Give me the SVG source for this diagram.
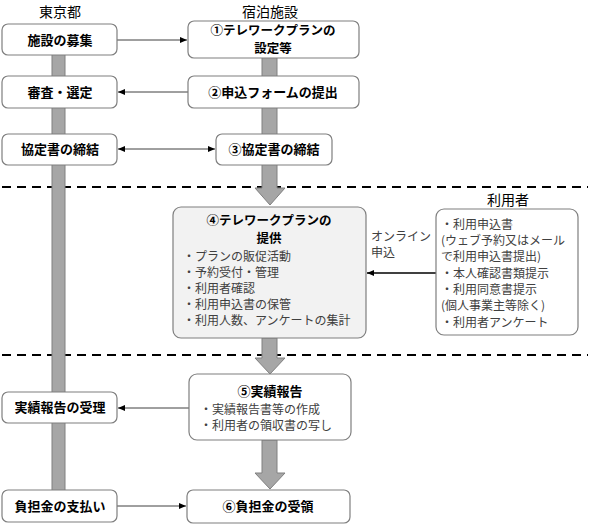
<svg xmlns="http://www.w3.org/2000/svg" width="591" height="526" viewBox="0 0 591 526">
<defs>
<marker id="ah" markerWidth="8" markerHeight="8" refX="7" refY="4" orient="auto-start-reverse" markerUnits="userSpaceOnUse">
<path d="M0,1 L7,4 L0,7 Z" fill="#000"/>
</marker>
<style>
text{font-family:"Noto Sans CJK JP","Noto Sans CJK SC",sans-serif;fill:#000}
.hd{font-size:14px;text-anchor:middle}
.bt{font-size:13px;font-weight:bold;text-anchor:middle}
.bt2{font-size:12.5px;font-weight:bold;text-anchor:middle}
.it{font-size:12px;fill:#404040}
.box{fill:#fff;stroke:#7f7f7f;stroke-width:1.2}
.bar{fill:#a6a6a6;stroke:#808080;stroke-width:1}
.ln{stroke:#404040;stroke-width:1;fill:none}
.dash{stroke:#000;stroke-width:2;stroke-dasharray:9 6}
</style>
</defs>
<rect width="591" height="526" fill="#fff"/>
<text class="hd" x="60" y="17">東京都</text>
<text class="hd" x="270" y="17">宿泊施設</text>
<text class="hd" x="508" y="205">利用者</text>
<line class="dash" x1="2" y1="187" x2="588" y2="187"/>
<line class="dash" x1="2" y1="355" x2="588" y2="355"/>
<g id="bars">
<rect class="bar" x="52" y="40" width="13" height="465"/>
<path class="bar" d="M262,40 L277,40 L277,188 L285,188 L270,205 L255,188 L262,188 Z"/>
<path class="bar" d="M262,338 L277,338 L277,358 L285,358 L270,374 L255,358 L262,358 Z"/>
<path class="bar" d="M262,440 L277,440 L277,473 L285,473 L270,489 L255,473 L262,473 Z"/>
</g>
<g id="connectors">
<line class="ln" x1="117" y1="40" x2="187" y2="40" marker-end="url(#ah)"/>
<line class="ln" x1="188" y1="92" x2="118" y2="92" marker-end="url(#ah)"/>
<line class="ln" x1="118" y1="149" x2="215" y2="149" marker-start="url(#ah)" marker-end="url(#ah)"/>
<line x1="436" y1="273" x2="367" y2="273" stroke="#000" stroke-width="1.6" marker-end="url(#ah)"/>
<line class="ln" x1="189" y1="408" x2="118" y2="408" marker-end="url(#ah)"/>
<line class="ln" x1="117" y1="506" x2="186" y2="506" marker-end="url(#ah)"/>
</g>
<g id="n-boshu"><rect class="box" x="2" y="24" width="115" height="31" rx="6"/><text class="bt" x="60" y="44.5">施設の募集</text></g>
<g id="n-shinsa"><rect class="box" x="2" y="76" width="115" height="32" rx="6"/><text class="bt" x="60" y="96.5">審査・選定</text></g>
<g id="n-kyotei-l"><rect class="box" x="2" y="134" width="115" height="31" rx="6"/><text class="bt" x="60" y="154">協定書の締結</text></g>
<g id="n-juri"><rect class="box" x="2" y="392" width="115" height="31" rx="6"/><text class="bt" x="60" y="412">実績報告の受理</text></g>
<g id="n-shiharai"><rect class="box" x="2" y="490" width="115" height="32" rx="6"/><text class="bt" x="60" y="510.5">負担金の支払い</text></g>
<g id="n-plan"><rect class="box" x="188" y="21" width="171" height="37" rx="6"/><text class="bt2" x="273" y="35">①テレワークプランの</text><text class="bt2" x="273" y="53">設定等</text></g>
<g id="n-moushikomi"><rect class="box" x="188" y="76" width="171" height="32" rx="6"/><text class="bt" x="273" y="96.5">②申込フォームの提出</text></g>
<g id="n-kyotei-r"><rect class="box" x="216" y="134" width="116" height="31" rx="6"/><text class="bt" x="274" y="154">③協定書の締結</text></g>
<g id="n-teikyo"><rect x="173" y="207" width="193" height="131" rx="8" fill="#f2f2f2" stroke="#7f7f7f" stroke-width="1.2"/>
<text class="bt2" x="269" y="225">④テレワークプランの</text><text class="bt2" x="269" y="242.5">提供</text>
<text class="it" x="183" y="261">・プランの販促活動</text>
<text class="it" x="183" y="277">・予約受付・管理</text>
<text class="it" x="183" y="293">・利用者確認</text>
<text class="it" x="183" y="309">・利用申込書の保管</text>
<text class="it" x="183" y="325">・利用人数、アンケートの集計</text></g>
<g id="n-online"><text class="it" x="371" y="241">オンライン</text><text class="it" x="371" y="257">申込</text></g>
<g id="n-user"><rect class="box" x="436" y="209" width="142" height="126" rx="8"/>
<text class="it" x="441" y="229">・利用申込書</text>
<text class="it" x="441" y="245">(ウェブ予約又はメール</text>
<text class="it" x="441" y="261">で利用申込書提出)</text>
<text class="it" x="441" y="278">・本人確認書類提示</text>
<text class="it" x="441" y="294">・利用同意書提示</text>
<text class="it" x="441" y="310">(個人事業主等除く)</text>
<text class="it" x="441" y="327">・利用者アンケート</text></g>
<g id="n-jisseki"><rect class="box" x="189" y="374" width="162" height="66" rx="8"/>
<text class="bt" x="270" y="396">⑤実績報告</text>
<text class="it" x="200" y="414">・実績報告書等の作成</text>
<text class="it" x="200" y="430">・利用者の領収書の写し</text></g>
<g id="n-juryo"><rect class="box" x="187" y="490" width="163" height="33" rx="6"/><text class="bt" x="268" y="511">⑥負担金の受領</text></g>
</svg>
